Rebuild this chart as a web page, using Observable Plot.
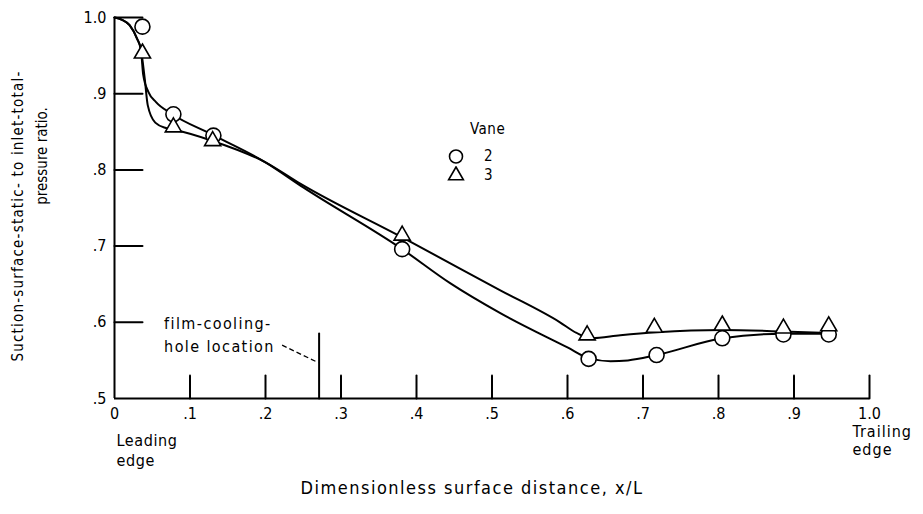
<!DOCTYPE html>
<html>
<head>
<meta charset="utf-8">
<script src="https://cdn.jsdelivr.net/npm/d3@7"></script>
<script src="https://cdn.jsdelivr.net/npm/@observablehq/plot@0.6"></script>
<style>
  body { margin: 0; background: #fff; }
  #wrap { position: relative; width: 923px; height: 514px; font-family: "DejaVu Sans Condensed", "DejaVu Sans", sans-serif; }
  #legend { position: absolute; left: 446px; top: 120px; font-size: 15px; color: #000; line-height: 19px; }
  #legend .title { margin-left: 24px; margin-bottom: 8px; letter-spacing: 0.5px; }
  #legend .row { display: flex; align-items: center; height: 19px; }
  #legend svg { width: 20px; height: 19px; margin-right: 18px; }
  .ylab { position: absolute; white-space: nowrap; font-size: 15px; color: #000;
          transform: translate(-50%, -50%) rotate(-90deg); }
</style>
</head>
<body>
<div id="wrap"></div>
<script>
// ---- data ----
const xTicks = [0, 0.1, 0.2, 0.3, 0.4, 0.5, 0.6, 0.7, 0.8, 0.9, 1.0];
const yTicks = [0.5, 0.6, 0.7, 0.8, 0.9, 1.0];

// Vane 2 (circles), measured points
const vane2X = [0.037, 0.078, 0.131, 0.381, 0.628, 0.718, 0.805, 0.886, 0.946];
const vane2Y = [0.988, 0.873, 0.845, 0.696, 0.552, 0.557, 0.579, 0.584, 0.584];
// Vane 3 (triangles), measured points
const vane3X = [0.037, 0.078, 0.130, 0.381, 0.626, 0.715, 0.805, 0.886, 0.946];
const vane3Y = [0.953, 0.856, 0.838, 0.714, 0.583, 0.593, 0.596, 0.592, 0.595];

// Faired curves
const fair2X = [0, 0.01, 0.02, 0.03, 0.035, 0.038, 0.045, 0.055, 0.075, 0.13, 0.2, 0.25, 0.381, 0.445, 0.511, 0.6, 0.628, 0.657, 0.68, 0.718, 0.805, 0.885, 0.946];
const fair2Y = [1.0, 0.997, 0.99, 0.972, 0.958, 0.925, 0.902, 0.889, 0.874, 0.846, 0.81, 0.777, 0.696, 0.651, 0.612, 0.567, 0.553, 0.549, 0.55, 0.557, 0.579, 0.585, 0.585];
const fair3X = [0, 0.01, 0.02, 0.03, 0.035, 0.04, 0.044, 0.054, 0.068, 0.078, 0.13, 0.2, 0.246, 0.38, 0.511, 0.59, 0.612, 0.632, 0.67, 0.719, 0.805, 0.885, 0.946];
const fair3Y = [1.0, 0.997, 0.99, 0.972, 0.958, 0.92, 0.885, 0.862, 0.855, 0.853, 0.838, 0.81, 0.782, 0.712, 0.642, 0.6, 0.586, 0.579, 0.583, 0.587, 0.59, 0.588, 0.586];

// Annotation
const holeLocation = 0.271;
const holeLabel = "film-cooling-\nhole location";
const leaderX = [0.222, 0.270];
const leaderY = [0.570, 0.547];
const edgeX = [0, 1.0];
const edgeLabels = ["Leading\nedge", "Trailing\nedge"];

const xLabel = "Dimensionless surface distance, x/L";
const yLabel1 = "Suction-surface-static- to inlet-total-";
const yLabel2 = "pressure ratio.";
const legendTitle = "Vane";
const legendNames = ["2", "3"];

// ---- build ----
const pts2 = vane2X.map((x, i) => ({x, y: vane2Y[i]}));
const pts3 = vane3X.map((x, i) => ({x, y: vane3Y[i]}));
const c2 = fair2X.map((x, i) => ({x, y: fair2Y[i]}));
const c3 = fair3X.map((x, i) => ({x, y: fair3Y[i]}));
const fmt = d => d === 0 ? "0" : (d === 1 ? "1.0" : d.toFixed(1).replace(/^0/, ""));
const tickShape = {draw(context, l) { context.moveTo(0, 0); context.lineTo(0, -l); }};

const chart = Plot.plot({
  width: 923, height: 514,
  marginLeft: 114, marginRight: 54, marginTop: 17, marginBottom: 116,
  x: {domain: [0, 1], axis: null},
  y: {domain: [0.5, 1], axis: null},
  style: {fontFamily: '"DejaVu Sans Condensed", "DejaVu Sans", sans-serif', fontSize: "15px", color: "#000", background: "#fff"},
  marks: [
    // axes lines
    Plot.ruleX([0], {y1: 0.5, y2: 1.0, strokeWidth: 2}),
    Plot.ruleY([0.5], {x1: 0, x2: 1.0, strokeWidth: 2}),
    // inward ticks
    Plot.vector(yTicks.filter(d => d > 0.5), {x: 0, y: d => d, rotate: 90, length: 28, anchor: "start", shape: tickShape, strokeWidth: 2}),
    Plot.vector(xTicks.filter(d => d > 0), {x: d => d, y: 0.5, length: 23, anchor: "start", shape: tickShape, strokeWidth: 2}),
    // tick labels
    Plot.text(yTicks, {x: 0, y: d => d, text: fmt, textAnchor: "end", dx: -8, fontSize: 16}),
    Plot.text(xTicks, {x: d => d, y: 0.5, text: fmt, dy: 15, fontSize: 16}),
    // edge labels
    Plot.text(edgeX, {x: d => d, y: 0.5, text: (d, i) => edgeLabels[i], textAnchor: "start", lineAnchor: "top", lineHeight: 1.25, fontSize: 16,
      dx: 2, dy: 33, filter: (d, i) => i === 0}),
    Plot.text(edgeX, {x: d => d, y: 0.5, text: (d, i) => edgeLabels[i], textAnchor: "start", lineAnchor: "top", lineHeight: 1.15, fontSize: 16,
      dx: -17, dy: 25, filter: (d, i) => i === 1}),
    // film cooling hole
    Plot.vector([holeLocation], {x: d => d, y: 0.5, length: 65, anchor: "start", shape: tickShape, strokeWidth: 2}),
    Plot.text([holeLocation], {x: d => d, y: 0.5, text: [holeLabel], textAnchor: "start", lineAnchor: "top", lineHeight: 1.45, dx: -155, dy: -86, fontSize: 16}),
    Plot.link([0], {x1: leaderX[0], y1: leaderY[0], x2: leaderX[1], y2: leaderY[1], strokeWidth: 1.3, strokeDasharray: "5,3"}),
    // curves
    Plot.line(c2, {x: "x", y: "y", curve: "monotone-x", strokeWidth: 2}),
    Plot.line(c3, {x: "x", y: "y", curve: "monotone-x", strokeWidth: 2}),
    // points
    Plot.dot(pts2, {x: "x", y: "y", r: 7.5, symbol: "circle", fill: "white", stroke: "black", strokeWidth: 1.6}),
    Plot.dot(pts3, {x: "x", y: "y", r: 6, symbol: "triangle", fill: "white", stroke: "black", strokeWidth: 1.6}),
    // x axis title
    Plot.text([xLabel], {frameAnchor: "bottom", text: d => d, dx: -20, dy: 95, fontSize: 18})
  ]
});
const wrap = document.getElementById("wrap");
// letter spacing for text marks to mimic lettering
chart.querySelectorAll("text").forEach(t => {
  const txt = t.textContent;
  if (txt === xLabel) t.setAttribute("letter-spacing", "1.5");
  else if (txt.startsWith("film")) t.setAttribute("letter-spacing", "1.4");
  else if (txt.startsWith("Leading")) t.setAttribute("letter-spacing", "0.6");
  else if (txt.startsWith("Trailing")) t.setAttribute("letter-spacing", "1");
});
wrap.appendChild(chart);

// y axis title (two rotated lines)
[[yLabel1, 18, 216, "1.2px"], [yLabel2, 42, 156, "0px"]].forEach(([t, cx, cy, ls]) => {
  const d = document.createElement("div");
  d.className = "ylab";
  d.style.left = cx + "px";
  d.style.top = cy + "px";
  d.style.letterSpacing = ls;
  d.textContent = t;
  wrap.appendChild(d);
});

// legend overlay
const legend = document.createElement("div");
legend.id = "legend";
const circ = '<svg viewBox="-10 -9.5 20 19"><circle r="6.5" fill="white" stroke="black" stroke-width="1.6"/></svg>';
const tri = '<svg viewBox="-10 -9.5 20 19"><path d="' + d3.symbol(d3.symbolTriangle, Math.PI * 30).call() + '" fill="white" stroke="black" stroke-width="1.6"/></svg>';
legend.innerHTML = '<div class="title">' + legendTitle + '</div>' +
  legendNames.map((n, i) => '<div class="row">' + (i === 0 ? circ : tri) + '<span>' + n + '</span></div>').join("");
wrap.appendChild(legend);
</script>
</body>
</html>
